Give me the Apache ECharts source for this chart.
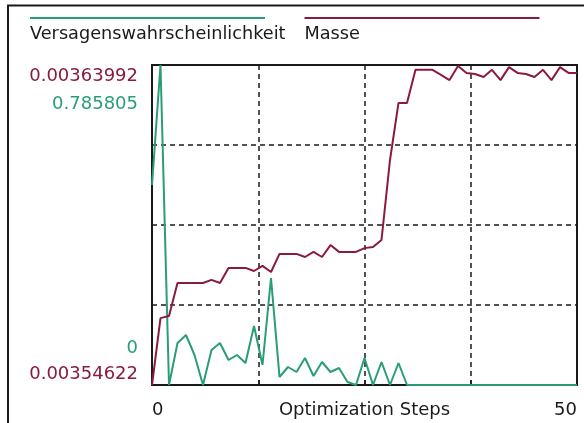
<!DOCTYPE html>
<html>
<head>
<meta charset="utf-8">
<script src="https://cdn.jsdelivr.net/npm/echarts@6/dist/echarts.min.js"></script>
<style>
html, body { margin: 0; padding: 0; background: #ffffff; }
#chart { width: 584px; height: 423px; }
</style>
</head>
<body>
<div id="chart"></div>
<script>
// ---------- data ----------
const seriesNames = ['Versagenswahrscheinlichkeit', 'Masse'];
const xAxisName = 'Optimization Steps';

const steps = [0, 1, 2, 3, 4, 5, 6, 7, 8, 9,
  10, 11, 12, 13, 14, 15, 16, 17, 18, 19,
  20, 21, 22, 23, 24, 25, 26, 27, 28, 29,
  30, 31, 32, 33, 34, 35, 36, 37, 38, 39,
  40, 41, 42, 43, 44, 45, 46, 47, 48, 49, 50];

const versagen = [0.4911, 0.785805, 0, 0.1031, 0.1228, 0.0737, 0, 0.0859, 0.1031, 0.0614,
  0.0737, 0.0540, 0.1449, 0.0491, 0.2627, 0.0196, 0.0442, 0.0319, 0.0663, 0.0221,
  0.0565, 0.0319, 0.0417, 0.0074, 0, 0.0663, 0, 0.0565, 0, 0.0540,
  0, 0, 0, 0, 0, 0, 0, 0, 0, 0,
  0, 0, 0, 0, 0, 0, 0, 0, 0, 0, 0];

const masse = [0.00354622, 0.0035658, 0.0035664, 0.0035761, 0.0035761, 0.0035761, 0.0035761, 0.0035770, 0.0035761, 0.0035805,
  0.0035805, 0.0035805, 0.0035796, 0.0035811, 0.0035793, 0.0035846, 0.0035846, 0.0035846, 0.0035837, 0.0035852,
  0.0035837, 0.0035872, 0.0035852, 0.0035852, 0.0035852, 0.0035863, 0.0035866, 0.0035887, 0.0036121, 0.0036288,
  0.0036288, 0.0036385, 0.0036385, 0.0036385, 0.0036370, 0.0036355, 0.0036396, 0.0036376, 0.0036373, 0.0036364,
  0.0036385, 0.0036355, 0.0036393, 0.0036376, 0.0036373, 0.0036364, 0.0036385, 0.0036355, 0.0036393, 0.0036376, 0.0036376];

const xTickLabels = ['0', '50'];
const versagenAxisLabels = ['0', '0.785805'];
const masseAxisLabels = ['0.00354622', '0.00363992'];

// ---------- styling ----------
const GREEN = '#2a9d78';
const RED = '#8a1b3d';
const INK = '#1a1a1a';
const FONT = 'DejaVu Sans';

const xMin = Number(xTickLabels[0]), xMax = Number(xTickLabels[1]);
const vMin = Number(versagenAxisLabels[0]), vMax = Number(versagenAxisLabels[1]);
const mMin = Number(masseAxisLabels[0]), mMax = Number(masseAxisLabels[1]);
const near = (a, b, span) => Math.abs(a - b) < Math.abs(span) * 1e-4;

const versagenData = steps.map((s, i) => [s, versagen[i]]);
const masseData = steps.map((s, i) => [s, masse[i]]);

const chart = echarts.init(document.getElementById('chart'), null, { renderer: 'canvas' });

chart.setOption({
  animation: false,
  backgroundColor: '#ffffff',
  textStyle: { fontFamily: FONT },
  grid: {
    left: 152, right: 7, top: 65, bottom: 38,
    outerBoundsMode: 'none', containLabel: false,
    show: true, borderColor: INK, borderWidth: 2, backgroundColor: 'transparent'
  },
  legend: {
    left: 25, top: 17, padding: 0,
    itemWidth: 0, itemHeight: 0, itemGap: 14,
    icon: 'rect', selectedMode: false,
    data: seriesNames,
    formatter: function (name) {
      return (name === seriesNames[0] ? '{lg| }' : '{lr| }') + '\n{t|' + name + '}';
    },
    textStyle: {
      fontFamily: FONT, fontSize: 17.7, color: INK,
      rich: {
        lg: { width: 235, height: 2, lineHeight: 2, backgroundColor: GREEN, fontSize: 1 },
        lr: { width: 235, height: 2, lineHeight: 2, backgroundColor: RED, fontSize: 1 },
        t: { fontFamily: FONT, fontSize: 17.7, lineHeight: 31, color: INK }
      }
    }
  },
  graphic: [{
    type: 'polyline',
    silent: true,
    shape: { points: [[8, 423], [8, 5.5], [584, 5.5]] },
    style: { stroke: INK, lineWidth: 2, fill: null }
  }],
  xAxis: {
    type: 'value',
    min: xMin, max: xMax, interval: (xMax - xMin) / 4,
    name: xAxisName,
    nameLocation: 'middle', nameGap: 25, nameMoveOverlap: false,
    nameTextStyle: { fontFamily: FONT, fontSize: 18, color: INK, verticalAlign: 'middle' },
    axisLine: { show: false },
    axisTick: { show: true, inside: true, length: 5, lineStyle: { color: INK, width: 1.5 } },
    splitLine: { show: true, lineStyle: { color: INK, width: 1.5, type: [5, 4] } },
    axisLabel: {
      fontFamily: FONT, fontSize: 18, color: INK, margin: 16,
      showMinLabel: true, showMaxLabel: true,
      alignMinLabel: 'left', alignMaxLabel: 'right',
      formatter: function (v) {
        if (near(v, xMin, xMax - xMin)) return xTickLabels[0];
        if (near(v, xMax, xMax - xMin)) return xTickLabels[1];
        return '';
      }
    }
  },
  yAxis: [{
    type: 'value', position: 'left',
    min: vMin, max: vMax, interval: (vMax - vMin) / 4,
    axisLine: { show: false }, axisTick: { show: false },
    splitLine: { show: true, lineStyle: { color: INK, width: 1.5, type: [5, 4] } },
    axisLabel: {
      fontFamily: FONT, fontSize: 18, color: GREEN, margin: 14,
      showMinLabel: true, showMaxLabel: true,
      formatter: function (v) {
        if (near(v, vMax, vMax - vMin)) return '{hi|' + versagenAxisLabels[1] + '}';
        if (near(v, vMin, vMax - vMin)) return '{lo|' + versagenAxisLabels[0] + '}';
        return '';
      },
      rich: {
        hi: { fontFamily: FONT, fontSize: 18, color: GREEN, padding: [78, 0, 0, 0] },
        lo: { fontFamily: FONT, fontSize: 18, color: GREEN, padding: [0, 0, 73, 0] }
      }
    }
  }, {
    type: 'value', position: 'left',
    min: mMin, max: mMax, interval: mMax - mMin,
    axisLine: { show: false }, axisTick: { show: false },
    splitLine: { show: false },
    axisLabel: {
      fontFamily: FONT, fontSize: 18, color: RED, margin: 14,
      showMinLabel: true, showMaxLabel: true,
      formatter: function (v) {
        if (near(v, mMax, mMax - mMin)) return '{hi|' + masseAxisLabels[1] + '}';
        if (near(v, mMin, mMax - mMin)) return '{lo|' + masseAxisLabels[0] + '}';
        return '';
      },
      rich: {
        hi: { fontFamily: FONT, fontSize: 18, color: RED, padding: [22, 0, 0, 0] },
        lo: { fontFamily: FONT, fontSize: 18, color: RED, padding: [0, 0, 22, 0] }
      }
    }
  }],
  series: [{
    name: seriesNames[0], type: 'line', yAxisIndex: 0,
    data: versagenData, showSymbol: false, symbol: 'none', clip: false,
    itemStyle: { color: GREEN },
    lineStyle: { color: GREEN, width: 2 },
    z: 3
  }, {
    name: seriesNames[1], type: 'line', yAxisIndex: 1,
    data: masseData, showSymbol: false, symbol: 'none', clip: false,
    itemStyle: { color: RED },
    lineStyle: { color: RED, width: 2 },
    z: 4
  }]
});
</script>
</body>
</html>
